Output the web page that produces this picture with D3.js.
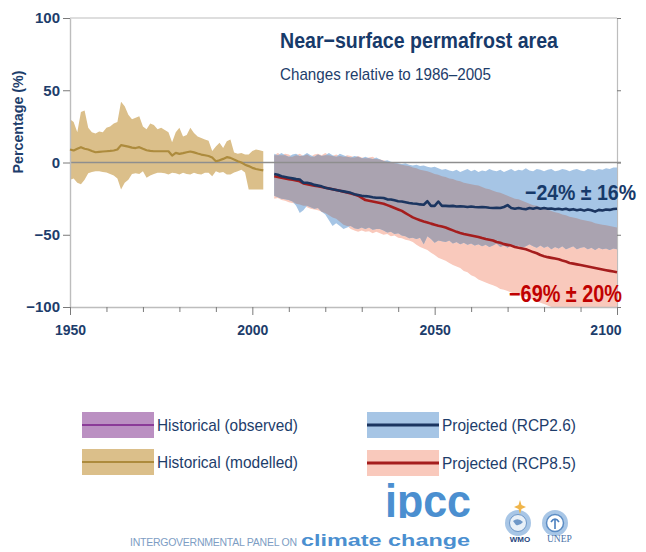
<!DOCTYPE html>
<html>
<head>
<meta charset="utf-8">
<script src="https://cdn.jsdelivr.net/npm/d3@7"></script>
<style>
  html, body { margin: 0; padding: 0; background: #ffffff; }
  svg { display: block; }
</style>
</head>
<body>
<svg id="chart" width="646" height="552"></svg>
<script>
// ---- Historical (modelled) ensemble, 1950–2003, % change vs 1986–2005 ----
const histYears = d3.range(1950, 2004);
const histMean = [
  9, 8.3, 9.5, 10.6, 9.5, 9, 8, 7.1, 7.4, 7.6,
  7.8, 8, 8.3, 9, 12, 11.5, 11, 10.3, 10, 10.6,
  9.5, 8.5, 8, 7.8, 7.8, 7.8, 7.8, 7.8, 4.8, 6.7,
  6, 6.5, 7.1, 7.6, 7, 6.2, 5.5, 5, 4.5, 3.5,
  0.9, 1.5, 2.5, 3.7, 3.2, 2, 0.9, 0, -1.5, -2.5,
  -3.7, -4.5, -5, -5.5
];
const histUpper = [
  30, 28, 21, 35, 36, 24, 21, 20, 21.5, 21,
  24, 25, 27, 28, 42, 39, 33, 30, 31, 32,
  25, 23, 27, 26, 23, 24, 22.5, 21, 14, 21,
  24, 18, 19, 24, 20.5, 18, 17, 16, 15, 8,
  11, 13.6, 10, 14.7, 16, 7, 6, 6.5, 5.5, 5.5,
  8, 9, 8.5, 7.8
];
const histLower = [
  -12, -11, -14, -15, -12, -7.5, -6.5, -6, -6, -6.5,
  -7, -8, -9, -11, -18.7, -14, -12, -8, -7.5, -8,
  -6, -10.6, -9, -8, -7.1, -7.1, -7.5, -8.3, -7.1, -7.5,
  -8.3, -7.1, -8, -8.3, -7.1, -8, -8.3, -7.1, -7.1, -9.5,
  -6, -7.1, -6.5, -8.3, -8.3, -7, -6, -5, -7, -18.7,
  -18.7, -18.7, -18.7, -18.7
];

// ---- Projections, 2006–2100 ----
const projYears = d3.range(2006, 2101);
const rcp26Mean = [
  -8, -8.5, -9.5, -10, -10.5, -11, -11.5, -11.8, -14, -14,
  -14.5, -15.5, -16, -16.5, -17.5, -18, -18.5, -19, -19.5, -20,
  -20.5, -21, -22, -22.5, -23, -23.3, -23.5, -24, -24.4, -24.4,
  -24.6, -25.5, -25.6, -26.2, -26.8, -27, -27.5, -28, -28.4, -28.5,
  -29, -29.2, -26.8, -30, -30, -27, -30, -30, -30.2, -30,
  -30.5, -30.3, -30.5, -30.8, -30.5, -30.8, -31, -30.8, -31, -31.3,
  -31.5, -31.3, -31.5, -30.8, -29.5, -31.5, -32, -31.5, -32, -32.3,
  -31.5, -32, -31.3, -32, -31.5, -32, -31.8, -32.3, -32, -32.5,
  -32, -32.8, -32.3, -33, -32.5, -33.3, -32.5, -33, -34, -32.8,
  -33.2, -32.5, -32.8, -32.2, -32
];
const rcp26Upper = [
  6, 5, 6.5, 5, 4, 5.5, 6, 4.5, 5, 6.5,
  5, 4, 5.5, 4.5, 5, 6.5, 5, 4, 6, 5,
  4, 3.5, 4.5, 4, 3, 4, 3, 2.5, 3.5, 2,
  1, 1.5, 0.5, 0, -0.5, -1, -0.5, -1.5, -2, -1.5,
  -2.5, -2, -3, -3.5, -3, -4, -5, -4.5, -5.5, -6,
  -5, -6.5, -5.5, -4.5, -6, -5, -6.5, -5.5, -6, -4.5,
  -5.5, -6, -5, -6.5, -5.5, -4.5, -6, -5, -5.5, -4,
  -5.5, -6, -4.5, -5, -6, -5, -4.5, -6, -5.5, -4.5,
  -5, -6, -5, -4.5, -5.5, -6, -4.5, -5, -5.5, -4.5,
  -5, -4, -4.5, -3.5, -3.5
];
const rcp26Lower = [
  -23, -24, -25, -25.5, -26, -27, -30, -35, -33, -30,
  -31, -32, -31.5, -34, -36, -40, -44, -42, -44, -46,
  -45, -44, -45.5, -46, -45, -46, -45, -46.5, -46, -46,
  -47, -48.5, -48, -49.5, -49, -50.5, -51, -52.5, -52, -53,
  -52, -56.5, -51, -53, -55.5, -54, -54.5, -55, -54, -56,
  -55, -56.5, -55.5, -57, -56, -57.5, -56.5, -58, -57, -58.5,
  -57.5, -56, -58.5, -57.5, -59, -57, -58.5, -57.5, -59, -58,
  -56.5, -58, -59, -57.5, -59, -58, -60, -58.5, -59.5, -58,
  -60, -59, -58, -60, -59, -58.5, -60, -59, -60.5, -59,
  -60, -59.5, -60.5, -59.5, -60
];
const rcp85Mean = [
  -9.5, -10, -10.5, -11, -11.5, -12, -12.5, -13, -14.5, -15,
  -15.5, -16, -16.5, -17, -17.5, -18, -18.5, -19, -19.5, -20.2,
  -20.8, -21.5, -22.2, -23, -24.5, -26, -26.5, -27, -27.5, -28,
  -28.5, -29.5, -30.5, -31.5, -32.5, -33.5, -35, -36.5, -38, -39,
  -40, -40.8, -41.5, -42.3, -43, -43.7, -44.3, -45, -46, -47,
  -48, -48.8, -49.5, -50, -50.5, -51, -51.5, -52.3, -53, -53.5,
  -54, -55, -55.5, -56.5, -57, -57.5, -58.5, -59, -59.5, -60,
  -61, -62, -62.8, -64, -64.8, -65.5, -66, -66.5, -67, -67.8,
  -68.5, -69.5, -70, -70.5, -71, -71.5, -72, -72.5, -73, -73.5,
  -74, -74.5, -75, -75.5, -76
];
const rcp85Upper = [
  5, 6.5, 5, 6, 5.5, 4, 5, 6, 4.5, 5.5,
  4, 5.5, 6, 5, 6.5, 5, 4.5, 5.5, 4.5, 4,
  5, 4.5, 3.5, 4.5, 3.5, 3, 3.5, 4, 2.5, 2,
  1.5, 0.5, 0, -0.5, -1, -1.5, -2, -2.5, -3.5, -4,
  -5, -5.5, -6, -7, -8, -8.5, -9.5, -10, -11, -11.5,
  -12.5, -13, -14, -14.5, -15, -15.5, -16, -17, -18, -18.5,
  -19.5, -20.5, -21, -22, -23, -24, -25, -25.5, -26.5, -27.5,
  -28.5, -29.5, -30, -31, -32, -32.5, -33.5, -34.5, -35, -36,
  -36.5, -37.5, -38, -38.5, -39.5, -40, -40.5, -41, -42, -42.5,
  -43, -43.5, -44, -44.5, -45
];
const rcp85Lower = [
  -25, -24.5, -26, -26.5, -27.5, -28, -28.5, -29, -30, -31,
  -32, -32.5, -33, -34, -35, -36.5, -38, -39, -41, -43,
  -44, -46, -47, -48, -47, -48, -47.5, -49, -48, -49,
  -50, -49.5, -51, -50.5, -52, -52.5, -53.5, -54, -55, -57,
  -58.5, -59.5, -60.5, -62.5, -64, -66, -67, -68, -69.5, -71,
  -72, -73, -75, -76, -78, -79, -81, -82, -83, -84,
  -85, -86, -87.5, -88, -89, -90, -91, -91.5, -92.5, -93,
  -94, -95, -96, -97, -98, -99, -100, -100, -100, -100,
  -100, -100, -100, -100, -100, -100, -100, -100, -100, -100,
  -100, -100, -100, -100, -100
];

// ---- Axis ticks and text ----
const yTicks = [-100, -50, 0, 50, 100];
const xTicks = d3.range(1950, 2101, 10);
const xLabelYears = [1950, 2000, 2050, 2100];
const titleText = "Near\u2212surface permafrost area";
const subtitleText = "Changes relative to 1986\u20132005";
const yTitle = "Percentage (%)";
const rcp26Label = "\u221224% \u00b1 16%";
const rcp85Label = "\u221269% \u00b1 20%";
const legendLabels = ["Historical (observed)", "Historical (modelled)", "Projected (RCP2.6)", "Projected (RCP8.5)"];

// ---- Styling ----
const COL = {
  navy: "#173a6a",
  text: "#1d3d6b",
  red: "#c00000",
  frame: "#bdbdbd",
  tick: "#7a7a7a",
  zero: "#8e8e8e",
  histBand: "#dbbf8a",
  histLine: "#ad8b3d",
  obsBand: "#bb90c2",
  obsLine: "#8b3b98",
  blueBand: "#a6c5e5",
  blueLine: "#1b3560",
  pinkBand: "#f9c9bc",
  redLine: "#a51d1d",
  overlap: "#aaa3b0",
  logo: "#4b8fd0"
};
const NARROW = "'Liberation Sans Narrow','Arial Narrow','Liberation Sans',Arial,sans-serif";
const SANS = "'Liberation Sans',Arial,Helvetica,sans-serif";

const svg = d3.select("#chart");
const x = d3.scaleLinear().domain([1950, 2100]).range([70, 617]);
const y = d3.scaleLinear().domain([-100, 100]).range([307, 18]);

const hist = histYears.map((yr, i) => ({ yr, lo: histLower[i], hi: histUpper[i], mid: histMean[i] }));
const proj = projYears.map((yr, i) => ({
  yr,
  aLo: rcp26Lower[i], aHi: rcp26Upper[i], aMid: rcp26Mean[i],
  bLo: rcp85Lower[i], bHi: rcp85Upper[i], bMid: rcp85Mean[i],
  oLo: Math.max(rcp26Lower[i], rcp85Lower[i]),
  oHi: Math.min(rcp26Upper[i], rcp85Upper[i])
}));

const area = (lo, hi) => d3.area().x(d => x(d.yr)).y0(d => y(d[lo])).y1(d => y(d[hi]));
const line = key => d3.line().x(d => x(d.yr)).y(d => y(d[key]));

// frame: top and right edges
svg.append("line")
  .attr("x1", x(1950)).attr("x2", x(2100)).attr("y1", y(100)).attr("y2", y(100))
  .attr("stroke", COL.frame).attr("stroke-width", 1.2);
const rightAxis = svg.append("g").attr("transform", `translate(${x(2100)},0)`)
  .call(d3.axisRight(y).tickValues(yTicks).tickSize(4).tickSizeOuter(0).tickFormat(""));
rightAxis.select(".domain").attr("stroke", COL.frame).attr("stroke-width", 1.2);
rightAxis.selectAll(".tick line").attr("stroke", COL.tick);

// uncertainty bands
svg.append("path").datum(hist).attr("d", area("lo", "hi")).attr("fill", COL.histBand);
svg.append("path").datum(proj).attr("d", area("bLo", "bHi")).attr("fill", COL.pinkBand);
svg.append("path").datum(proj).attr("d", area("aLo", "aHi")).attr("fill", COL.blueBand);
svg.append("path").datum(proj)
  .attr("d", area("oLo", "oHi").defined(d => d.oHi >= d.oLo))
  .attr("fill", COL.overlap);

// zero reference line
svg.append("line")
  .attr("x1", x(1950)).attr("x2", x(2100) + 4).attr("y1", y(0)).attr("y2", y(0))
  .attr("stroke", COL.zero).attr("stroke-width", 1.3);

// left axis
const leftAxis = svg.append("g").attr("transform", `translate(${x(1950)},0)`)
  .call(d3.axisLeft(y).tickValues(yTicks).tickSize(7).tickSizeOuter(0).tickPadding(3)
    .tickFormat(d => d < 0 ? "\u2212" + Math.abs(d) : String(d)));
leftAxis.select(".domain").attr("stroke", COL.frame).attr("stroke-width", 1.4);
leftAxis.selectAll(".tick line").attr("stroke", COL.tick);
leftAxis.selectAll(".tick text")
  .attr("fill", COL.text).attr("font-family", SANS).attr("font-weight", "bold").attr("font-size", 15);

// bottom axis
const bottomAxis = svg.append("g").attr("transform", `translate(0,${y(-100)})`)
  .call(d3.axisBottom(x).tickValues(xTicks).tickSize(5).tickSizeOuter(0)
    .tickFormat(d => xLabelYears.includes(d) ? String(d) : ""));
bottomAxis.select(".domain").attr("stroke", COL.frame).attr("stroke-width", 1.4);
bottomAxis.selectAll(".tick line")
  .attr("stroke", COL.tick)
  .attr("y2", d => xLabelYears.includes(d) ? 8 : 5);
bottomAxis.selectAll(".tick text")
  .attr("fill", COL.text).attr("font-family", SANS).attr("font-weight", "bold").attr("font-size", 14)
  .attr("y", 28).attr("dy", 0)
  .attr("text-anchor", d => d === 2100 ? "end" : "middle")
  .attr("x", d => d === 2100 ? 4 : 0);

// ensemble means
svg.append("path").datum(hist).attr("d", line("mid"))
  .attr("fill", "none").attr("stroke", COL.histLine).attr("stroke-width", 2.2).attr("stroke-linejoin", "round");
svg.append("path").datum(proj).attr("d", line("bMid"))
  .attr("fill", "none").attr("stroke", COL.redLine).attr("stroke-width", 2.6).attr("stroke-linejoin", "round");
svg.append("path").datum(proj).attr("d", line("aMid"))
  .attr("fill", "none").attr("stroke", COL.blueLine).attr("stroke-width", 2.6).attr("stroke-linejoin", "round");

// titles
svg.append("text").attr("x", 280).attr("y", 48).text(titleText)
  .attr("font-family", NARROW).attr("font-weight", "bold").attr("font-size", 22)
  .attr("fill", COL.navy).attr("textLength", 278).attr("lengthAdjust", "spacingAndGlyphs");
svg.append("text").attr("x", 280).attr("y", 80).text(subtitleText)
  .attr("font-family", NARROW).attr("font-size", 17)
  .attr("fill", COL.text).attr("textLength", 211).attr("lengthAdjust", "spacingAndGlyphs");
svg.append("text").attr("transform", "translate(23,122) rotate(-90)")
  .attr("text-anchor", "middle").text(yTitle)
  .attr("font-family", NARROW).attr("font-weight", "bold").attr("font-size", 14)
  .attr("fill", COL.text).attr("textLength", 103).attr("lengthAdjust", "spacingAndGlyphs");

// end-of-century annotations
svg.append("text").attr("x", 525).attr("y", 199.5).text(rcp26Label)
  .attr("font-family", NARROW).attr("font-weight", "bold").attr("font-size", 22)
  .attr("fill", COL.navy).attr("textLength", 111).attr("lengthAdjust", "spacingAndGlyphs");
svg.append("text").attr("x", 509).attr("y", 301.5).text(rcp85Label)
  .attr("font-family", NARROW).attr("font-weight", "bold").attr("font-size", 24)
  .attr("fill", COL.red).attr("textLength", 113).attr("lengthAdjust", "spacingAndGlyphs");

// legend
const legendItems = [
  { label: legendLabels[0], band: COL.obsBand, line: COL.obsLine, lw: 2, x: 82, y: 412 },
  { label: legendLabels[1], band: COL.histBand, line: COL.histLine, lw: 2, x: 82, y: 449 },
  { label: legendLabels[2], band: COL.blueBand, line: COL.blueLine, lw: 3, x: 367, y: 412 },
  { label: legendLabels[3], band: COL.pinkBand, line: COL.redLine, lw: 3, x: 367, y: 450 }
];
const lg = svg.append("g").selectAll("g").data(legendItems).join("g")
  .attr("transform", d => `translate(${d.x},${d.y})`);
lg.append("rect").attr("width", 72).attr("height", 26).attr("fill", d => d.band);
lg.append("line").attr("x1", 0).attr("x2", 72).attr("y1", 13).attr("y2", 13)
  .attr("stroke", d => d.line).attr("stroke-width", d => d.lw);
lg.append("text").attr("x", 75).attr("y", 18.5).text(d => d.label)
  .attr("font-family", NARROW).attr("font-size", 17).attr("fill", COL.text)
  .attr("textLength", (d, i) => i < 2 ? 141 : 134).attr("lengthAdjust", "spacingAndGlyphs");

// IPCC footer
const defs = svg.append("defs");
defs.append("clipPath").attr("id", "logoClip")
  .append("rect").attr("x", 370).attr("y", 470).attr("width", 120).attr("height", 48);
svg.append("text").attr("x", 385).attr("y", 517).text("ipcc")
  .attr("clip-path", "url(#logoClip)")
  .attr("font-family", SANS).attr("font-weight", "bold").attr("font-size", 46)
  .attr("fill", COL.logo).attr("textLength", 86).attr("lengthAdjust", "spacingAndGlyphs");
svg.append("text").attr("x", 130).attr("y", 546).text("INTERGOVERNMENTAL PANEL ON")
  .attr("font-family", SANS).attr("font-size", 10.5).attr("fill", "#7d9dc4")
  .attr("textLength", 167).attr("lengthAdjust", "spacing");
svg.append("text").attr("x", 301).attr("y", 546).text("climate change")
  .attr("font-family", SANS).attr("font-weight", "bold").attr("font-size", 16)
  .attr("fill", COL.logo).attr("textLength", 169).attr("lengthAdjust", "spacingAndGlyphs");

// WMO emblem
const wmo = svg.append("g").attr("transform", "translate(518,523)");
wmo.append("circle").attr("r", 13).attr("fill", "#a8c6e6");
wmo.append("circle").attr("r", 8.5).attr("fill", "#e8f0f8").attr("stroke", "#6f98c8").attr("stroke-width", 1);
wmo.append("path").attr("d", "M-5,-2 Q0,-6 5,-1 Q2,3 -2,2 Z").attr("fill", "#6f98c8");
wmo.append("path").attr("d", "M2,-23 L3.5,-18 L8,-16 L3.5,-14 L2,-9 L0.5,-14 L-4,-16 L0.5,-18 Z").attr("fill", "#f0b54a");
svg.append("text").attr("x", 520).attr("y", 542).attr("text-anchor", "middle").text("WMO")
  .attr("font-family", SANS).attr("font-weight", "bold").attr("font-size", 8).attr("fill", "#25467e");

// UNEP emblem
const unep = svg.append("g").attr("transform", "translate(555,523)");
unep.append("circle").attr("r", 13).attr("fill", "#a8c6e6");
unep.append("circle").attr("r", 8.5).attr("fill", "#ffffff").attr("stroke", "#5b8cc4").attr("stroke-width", 1.5);
unep.append("path").attr("d", "M0,6 L0,-4 M-4,-1 Q0,-7 4,-1").attr("fill", "none").attr("stroke", "#4a7fbf").attr("stroke-width", 1.6);
svg.append("text").attr("x", 547).attr("y", 542).text("UNEP")
  .attr("font-family", "'Liberation Serif','Times New Roman',serif").attr("font-size", 9.5).attr("fill", "#4a73a8");
</script>
</body>
</html>
